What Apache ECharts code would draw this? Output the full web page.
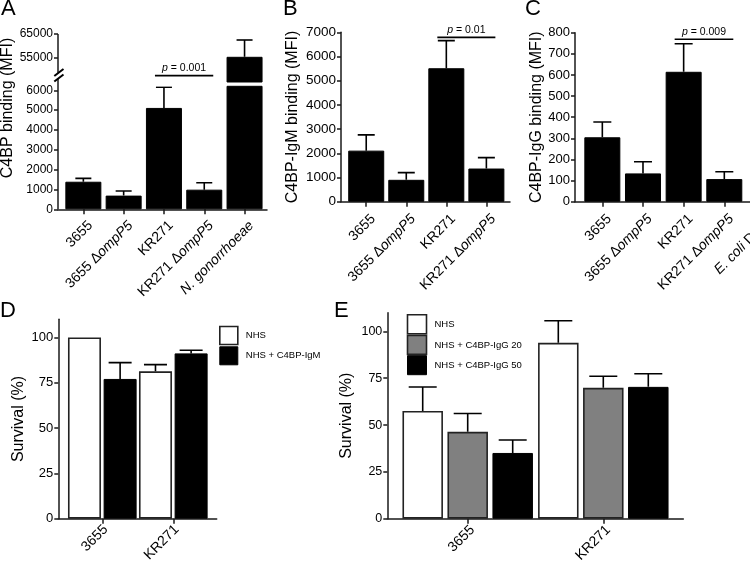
<!DOCTYPE html>
<html><head><meta charset="utf-8">
<script src="https://cdn.jsdelivr.net/npm/echarts@6/dist/echarts.min.js"></script>
<style>html,body{margin:0;padding:0;background:#fff}#c{width:750px;height:561px}</style>
</head><body><div id="c"></div>
<script>
// ---------------- DATA ----------------
const catsA = ['3655', '3655 ΔompP5', 'KR271', 'KR271 ΔompP5', 'N. gonorrhoeae'];
const valA = [1390, 690, 5110, 990, 55500];
const errA = [170, 230, 1040, 350, 7000];
const ticksALow = [0, 1000, 2000, 3000, 4000, 5000, 6000];
const ticksAUp = [55000, 65000];
const sigA = { from: 2, to: 3, y: 6740, text: '0.001' };

const catsB = ['3655', '3655 ΔompP5', 'KR271', 'KR271 ΔompP5'];
const valB = [2110, 905, 5515, 1370];
const errB = [650, 295, 1140, 450];
const ticksB = [0, 1000, 2000, 3000, 4000, 5000, 6000, 7000];
const sigB = { from: 2, to: 3, y: 6790, text: '0.01' };

const catsC = ['3655', '3655 ΔompP5', 'KR271', 'KR271 ΔompP5', 'E. coli DH5α'];
const valC = [305, 134, 615, 107, null];
const errC = [72, 55, 133, 35, null];
const ticksC = [0, 100, 200, 300, 400, 500, 600, 700, 800];
const sigC = { from: 2, to: 3, y: 769, text: '0.009' };

const catsD = ['3655', 'KR271'];
const namesD = ['NHS', 'NHS + C4BP-IgM'];
const nhsD = [100, 81.3];
const nhsDErr = [0, 3.7];
const igmD = [77.1, 91.2];
const igmDErr = [9.0, 1.7];
const ticksD = [0, 25, 50, 75, 100];

const catsE = ['3655', 'KR271'];
const namesE = ['NHS', 'NHS + C4BP-IgG 20', 'NHS + C4BP-IgG 50'];
const nhsE = [57.5, 93.9];
const nhsEErr = [12.8, 11.8];
const igg20E = [46.4, 69.9];
const igg20EErr = [9.8, 6.2];
const igg50E = [35.1, 70.4];
const igg50EErr = [6.9, 7.0];
const ticksE = [0, 25, 50, 75, 100];

// ---------------- STYLE HELPERS ----------------
const FONT = '"Liberation Sans", Arial, Helvetica, sans-serif';
const AX = '#1a1a1a';
const WHITE = { color: '#ffffff', borderColor: '#222', borderWidth: 1.6 };
const GREY = { color: '#808080', borderColor: '#222', borderWidth: 1.6 };
const BLACK = { color: '#000000', borderColor: '#000', borderWidth: 1 };

function fmtCat(v) {
  if (v.indexOf('Δ') >= 0) { const p = v.split('Δ'); return p[0] + 'Δ{i|' + p[1] + '}'; }
  if (v.indexOf('E. coli') === 0) return '{i|E. coli}' + v.slice(7);
  if (v.indexOf('N. ') === 0) return '{i|' + v + '}';
  return v;
}
function catAxis(gi, cats, fs, lh, margin) {
  return {
    type: 'category', gridIndex: gi, data: cats, boundaryGap: true,
    axisLine: { show: false },
    axisTick: { show: true, alignWithLabel: true, length: 5, lineStyle: { color: AX, width: 1.5 } },
    axisLabel: {
      interval: 0, rotate: 45, margin: margin, color: '#000', fontSize: fs, fontFamily: FONT, formatter: fmtCat,
      verticalAlign: 'top', lineHeight: lh,
      rich: { i: { fontStyle: 'italic', fontSize: fs, fontFamily: FONT, color: '#000', lineHeight: lh } }
    },
    splitLine: { show: false }
  };
}
function valAxis(gi, min, max, ticks, fs, off, name, gap, showLine) {
  return {
    type: 'value', gridIndex: gi, min: min, max: max, offset: off,
    axisLine: { show: showLine !== false, lineStyle: { color: AX, width: 1.5 } },
    axisTick: { show: true, length: 4, customValues: ticks, lineStyle: { color: AX, width: 1.5 } },
    axisLabel: { customValues: ticks, margin: 5, color: '#000', fontSize: fs, fontFamily: FONT, formatter: v => String(v) },
    splitLine: { show: false },
    name: name || '', nameLocation: 'middle', nameGap: gap || 30,
    nameTextStyle: { fontSize: 16, fontFamily: FONT, color: '#000' }
  };
}
function lineXAxis(gi) {
  return { type: 'value', gridIndex: gi, min: 0, max: 1,
    axisLine: { show: true, onZero: false, lineStyle: { color: AX, width: 1.5 } },
    axisTick: { show: false }, axisLabel: { show: false }, splitLine: { show: false } };
}
function lineYAxis(gi) { return { type: 'value', gridIndex: gi, min: 0, max: 1, show: false }; }

function barSeries(name, xi, yi, vals, style, w, gap) {
  return { type: 'bar', name: name, xAxisIndex: xi, yAxisIndex: yi, data: vals, barWidth: w,
    barGap: gap || '0%', itemStyle: style, clip: true, silent: true, z: 2 };
}
function errorSeries(xi, yi, vals, errs, off, cap, keep) {
  const data = [];
  vals.forEach((v, i) => { if (v != null && errs[i] && (!keep || keep(v, errs[i]))) data.push([i, v, errs[i]]); });
  return {
    type: 'custom', xAxisIndex: xi, yAxisIndex: yi, z: 5, silent: true, clip: true, data: data,
    encode: { x: 0, y: 1 },
    renderItem: function (params, api) {
      const ci = api.value(0), v = api.value(1), e = api.value(2);
      const a = api.coord([ci, v]);
      const b = api.coord([ci, v + e]);
      const x = a[0] + off;
      return { type: 'group', children: [
        { type: 'line', shape: { x1: x, y1: a[1], x2: x, y2: b[1] }, style: { stroke: '#000', lineWidth: 1.6 } },
        { type: 'line', shape: { x1: x - cap / 2, y1: b[1], x2: x + cap / 2, y2: b[1] }, style: { stroke: '#000', lineWidth: 1.6 } }
      ] };
    }
  };
}
function sigSeries(xi, yi, sig) {
  return {
    type: 'custom', xAxisIndex: xi, yAxisIndex: yi, z: 6, silent: true, clip: false,
    data: [[sig.from, sig.to, sig.y]], encode: { x: [0, 1], y: 2 },
    renderItem: function (params, api) {
      const a = api.coord([api.value(0), api.value(2)]);
      const b = api.coord([api.value(1), api.value(2)]);
      const x1 = a[0] - 9, x2 = b[0] + 9;
      return { type: 'group', children: [
        { type: 'line', shape: { x1: x1, y1: a[1], x2: x2, y2: a[1] }, style: { stroke: '#000', lineWidth: 1.6 } },
        { type: 'text', style: { text: '{i|p} = ' + sig.text, x: (x1 + x2) / 2, y: a[1] - 2,
          align: 'center', verticalAlign: 'bottom', fontSize: 10.5, fontFamily: FONT, fill: '#000',
          rich: { i: { fontStyle: 'italic', fontSize: 10.5, fontFamily: FONT, fill: '#000' } } } }
      ] };
    }
  };
}
function groupOffsets(n, w, gapPx) {
  const total = n * w + (n - 1) * gapPx;
  const out = [];
  for (let i = 0; i < n; i++) out.push(-total / 2 + i * (w + gapPx) + w / 2);
  return out;
}

// ---------------- LAYOUT ----------------
const A_LOW_MAX = 6200, A_UP_MIN = 45000, A_UP_MAX = 65000;
const grids = [
  { left: 63.2, top: 86.3, width: 201.5, height: 123 },   // 0 A low
  { left: 63.2, top: 34, width: 201.5, height: 48 },      // 1 A up
  { left: 346.2, top: 32.3, width: 160.2, height: 169.4 },// 2 B
  { left: 582, top: 32.7, width: 203.3, height: 169 },    // 3 C
  { left: 66.8, top: 319.3, width: 142, height: 199.4 },  // 4 D
  { left: 399.9, top: 312.7, width: 271.2, height: 206 }, // 5 E
  { left: 58, top: 86.3, width: 209, height: 123 },       // 6 A x-line
  { left: 341, top: 32.3, width: 169, height: 169.4 },    // 7 B x-line
  { left: 575, top: 32.7, width: 210, height: 169 },      // 8 C x-line
  { left: 58.3, top: 319.3, width: 158.4, height: 199.4 },// 9 D x-line
  { left: 387.3, top: 312.7, width: 296, height: 206 }    // 10 E x-line
].map(g => Object.assign({ containLabel: false, outerBoundsMode: 'none' }, g));

const xAxes = [
  catAxis(0, catsA, 14, 20, 7),
  Object.assign(catAxis(1, catsA, 14, 20, 7), { show: false }),
  catAxis(2, catsB, 14, 20, 8),
  catAxis(3, catsC, 14, 20, 8),
  catAxis(4, catsD, 14, 10, 5),
  catAxis(5, catsE, 14, 14, 4),
  lineXAxis(6), lineXAxis(7), lineXAxis(8), lineXAxis(9), lineXAxis(10)
];
const yAxes = [
  valAxis(0, 0, A_LOW_MAX, ticksALow, 12, 5.2, '', 30, false),
  valAxis(1, A_UP_MIN, A_UP_MAX, ticksAUp, 12, 5.2, '', 30, false),
  valAxis(2, 0, 7000, ticksB, 13.5, 5.2, 'C4BP-IgM binding (MFI)', 40),
  valAxis(3, 0, 800, ticksC, 13, 7, 'C4BP-IgG binding (MFI)', 30),
  valAxis(4, 0, 110, ticksD, 13, 8.5, 'Survival (%)', 32),
  valAxis(5, 0, 110, ticksE, 12.5, 12.6, 'Survival (%)', 33),
  lineYAxis(6), lineYAxis(7), lineYAxis(8), lineYAxis(9), lineYAxis(10)
];

const offD = groupOffsets(2, 33, 33 * 0.08);
const offE = groupOffsets(3, 40.5, 40.5 * 0.111);

const series = [
  // A
  barSeries('A', 0, 0, valA, BLACK, 36),
  barSeries('A up', 1, 1, valA.map(v => (v >= A_UP_MIN ? v : null)), BLACK, 36),
  errorSeries(0, 0, valA, errA, 0, 16, (v, e) => v + e <= A_LOW_MAX),
  errorSeries(1, 1, valA, errA, 0, 16, (v, e) => v >= A_UP_MIN),
  sigSeries(0, 0, sigA),
  // B
  barSeries('B', 2, 2, valB, BLACK, 36),
  errorSeries(2, 2, valB, errB, 0, 17),
  sigSeries(2, 2, sigB),
  // C
  barSeries('C', 3, 3, valC, BLACK, 36),
  errorSeries(3, 3, valC, errC, 0, 18),
  sigSeries(3, 3, sigC),
  // D
  barSeries(namesD[0], 4, 4, nhsD, WHITE, 33, '8%'),
  barSeries(namesD[1], 4, 4, igmD, BLACK, 33, '8%'),
  errorSeries(4, 4, nhsD, nhsDErr, offD[0], 23),
  errorSeries(4, 4, igmD, igmDErr, offD[1], 23),
  // E
  barSeries(namesE[0], 5, 5, nhsE, WHITE, 40.5, '11.1%'),
  barSeries(namesE[1], 5, 5, igg20E, GREY, 40.5, '11.1%'),
  barSeries(namesE[2], 5, 5, igg50E, BLACK, 40.5, '11.1%'),
  errorSeries(5, 5, nhsE, nhsEErr, offE[0], 28),
  errorSeries(5, 5, igg20E, igg20EErr, offE[1], 28),
  errorSeries(5, 5, igg50E, igg50EErr, offE[2], 28)
];

const letter = (t, l, tp) => ({ text: t, left: l, top: tp, padding: 0,
  textStyle: { fontSize: 22, fontWeight: 'normal', color: '#000', fontFamily: FONT } });

const legendBase = { orient: 'vertical', icon: 'rect', selectedMode: false, padding: 0,
  textStyle: { fontSize: 9.5, fontFamily: FONT, color: '#000', padding: [0, 0, 0, 3] } };

const option = {
  animation: false,
  backgroundColor: '#fff',
  title: [letter('A', 1, -2), letter('B', 283, -2), letter('C', 525, -2), letter('D', 0, 300), letter('E', 334, 300)],
  legend: [
    Object.assign({}, legendBase, { left: 219, top: 325.7, itemWidth: 18, itemHeight: 18, itemGap: 1,
      data: [{ name: namesD[0], itemStyle: WHITE }, { name: namesD[1], itemStyle: BLACK }] }),
    Object.assign({}, legendBase, { left: 406.7, top: 314, itemWidth: 19, itemHeight: 19, itemGap: 0,
      data: [{ name: namesE[0], itemStyle: WHITE }, { name: namesE[1], itemStyle: GREY }, { name: namesE[2], itemStyle: BLACK }] })
  ],
  grid: grids,
  xAxis: xAxes,
  yAxis: yAxes,
  series: series,
  graphic: [
    // panel A y-axis title
    { type: 'text', x: 8, y: 108, rotation: Math.PI / 2,
      style: { text: 'C4BP binding (MFI)', fontSize: 16, fontFamily: FONT, fill: '#000', align: 'center', verticalAlign: 'middle' } },
    // panel A broken y-axis line
    { type: 'line', shape: { x1: 58, y1: 34, x2: 58, y2: 72.7 }, style: { stroke: AX, lineWidth: 1.5 } },
    { type: 'line', shape: { x1: 58, y1: 78, x2: 58, y2: 209.3 }, style: { stroke: AX, lineWidth: 1.5 } },
    { type: 'line', shape: { x1: 54.3, y1: 76, x2: 63.5, y2: 69 }, style: { stroke: '#000', lineWidth: 2 } },
    { type: 'line', shape: { x1: 54.3, y1: 81.5, x2: 63.5, y2: 74.5 }, style: { stroke: '#000', lineWidth: 2 } }
  ]
};

const chart = echarts.init(document.getElementById('c'), null, { renderer: 'canvas', width: 750, height: 561 });
chart.setOption(option);
</script>
</body></html>
